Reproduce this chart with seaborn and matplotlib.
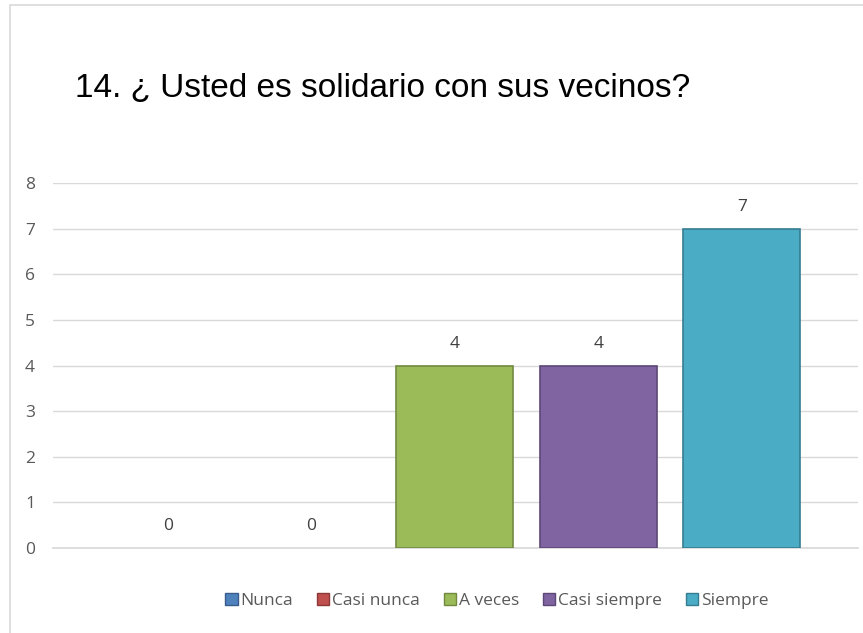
import matplotlib
matplotlib.use("Agg")
import matplotlib.pyplot as plt
import seaborn as sns
import pandas as pd
from matplotlib.patches import Rectangle, Patch

categories = ["Nunca", "Casi nunca", "A veces", "Casi siempre", "Siempre"]
values = [0, 0, 4, 4, 7]
colors = ["#4F81BD", "#C0504D", "#9BBB59", "#8064A2", "#4BACC6"]
edges = ["#385D8A", "#8C3836", "#71893F", "#5C4776", "#357D91"]
title = "14. ¿ Usted es solidario con sus vecinos?"

sns.set_theme(style="white")
plt.rcParams['font.family'] = ['Open Sans', 'DejaVu Sans']

df = pd.DataFrame({"cat": categories, "val": values})

fig = plt.figure(figsize=(8.63, 6.33), dpi=100)
ax = fig.add_axes([53/863, 1-548/633, (858-53)/863, (548-183)/633])

sns.barplot(data=df, x="cat", y="val", hue="cat", palette=colors, dodge=False,
            width=0.815, legend=False, ax=ax, saturation=1, zorder=3)
for p, ec, v in zip(ax.patches, edges, values):
    p.set_edgecolor(ec)
    p.set_linewidth(1.2 if v > 0 else 0)

ax.set_xlim(-0.8, 4.81)
ax.set_ylim(0, 8)
ax.set_yticks(range(0, 9))
ax.set_xticks([])
ax.set_xlabel("")
ax.set_ylabel("")
ax.yaxis.grid(True, color="#D9D9D9", linewidth=1, zorder=0)
ax.set_axisbelow(True)
for s in ax.spines.values():
    s.set_visible(False)
ax.spines["bottom"].set_visible(True)
ax.spines["bottom"].set_color("#D9D9D9")
ax.tick_params(axis="y", length=0, pad=13, labelsize=12.5, labelcolor="#595959")

for i, v in enumerate(values):
    ax.text(i, v + 0.3, str(v), ha="center", va="bottom", fontsize=12.5, color="#404040")

fig.text(75/863, 1-88/633, title, fontsize=24, color="#000000",
         family=["Liberation Sans", "DejaVu Sans"], va="center", ha="left")

handles = [Patch(facecolor=c, edgecolor=e) for c, e in zip(colors, edges)]
fig.legend(handles, categories, loc="center", bbox_to_anchor=(497/863, 1-601/633),
           ncol=5, frameon=False, fontsize=12.5, handlelength=0.7, handleheight=0.7,
           handletextpad=0.15, columnspacing=1.4, labelcolor="#595959")

fig.patches.append(Rectangle((10/863, -0.1), 1.2, 1-5/633 + 0.1, transform=fig.transFigure,
                             fill=False, edgecolor="#D9D9D9", linewidth=1.2))

fig.savefig("out.png", dpi=100)
